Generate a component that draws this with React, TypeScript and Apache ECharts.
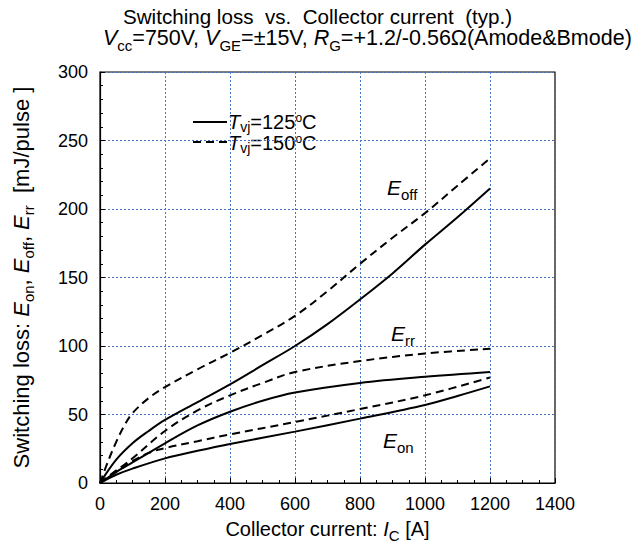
import React, { useEffect, useRef } from "react";
import * as echarts from "echarts";

const eoff125: [number, number][] = [[0,0],[50,17],[100,29],[150,38],[200,46],[300,59],[400,72],[500,86],[600,100],[700,116],[800,134],[900,153],[1000,174],[1100,194],[1200,215]];
const eoff150: [number, number][] = [[0,0],[25,16],[50,30],[75,42],[100,51],[150,62],[200,70],[300,83],[400,95],[500,108],[600,122],[700,140],[800,160],[900,179],[1000,197],[1100,217],[1200,237]];
const err125: [number, number][] = [[0,0],[50,8],[100,15],[200,29],[300,42],[400,52],[500,60],[600,66],[800,73],[1000,77.5],[1200,81]];
const err150: [number, number][] = [[0,0],[50,9],[100,18],[200,38],[300,53],[400,64],[500,73],[600,81],[800,89],[1000,94.5],[1200,98]];
const eon125: [number, number][] = [[0,0],[50,6],[100,10.5],[200,18],[300,23.5],[400,28.5],[600,37.5],[800,47],[1000,57],[1100,63.5],[1200,70.5]];
const eon150: [number, number][] = [[0,0],[50,9],[100,16],[150,22],[200,25.5],[300,30.5],[400,35.5],[600,44.5],[800,54],[1000,64],[1200,77]];

const FONT = "Liberation Sans, Arial, sans-serif";

export default function App() {
  const ref = useRef<HTMLDivElement>(null);
  useEffect(() => {
    if (!ref.current) return;
    const chart = echarts.init(ref.current, null, { renderer: "svg" });
    const lineS = (name: string, data: [number, number][], dashed: boolean) => ({
      name,
      type: "line",
      data,
      smooth: 0.35,
      showSymbol: false,
      lineStyle: { color: "#000", width: 2, type: dashed ? [8, 5] : "solid" },
      z: 5,
    });
    const mk = (size: number, subSize: number, subDrop = 4) => ({
      i: { fontStyle: "italic", fontSize: size, fontFamily: FONT },
      s: { fontSize: subSize, fontFamily: FONT, verticalAlign: "bottom", padding: [0, 0, -subDrop, 0] },
      o: { fontSize: Math.round(size * 0.6), fontFamily: FONT, verticalAlign: "top", padding: [0, 0, 6, 0] },
    });
    chart.setOption({
      animation: false,
      textStyle: { fontFamily: FONT, color: "#000" },
      grid: { left: 100, right: 82, top: 72, bottom: 68, show: true, borderColor: "#000", borderWidth: 1.2, backgroundColor: "transparent" },
      xAxis: {
        type: "value", min: 0, max: 1400, interval: 200,
        axisLine: { show: true, lineStyle: { color: "#000", width: 1.2 } },
        axisTick: { show: true, inside: true, length: 5, lineStyle: { color: "#000" } },
        minorTick: { show: true, splitNumber: 4, length: 3, lineStyle: { color: "#000" } },
        axisLabel: { fontSize: 18, color: "#000", fontFamily: FONT, margin: 12, formatter: (v: number) => String(v) },
        splitLine: { show: true, lineStyle: { color: "#4472C4", type: [2, 2], width: 1 } },
        name: "Collector current: {i|I}{s|C} [A]",
        nameLocation: "middle", nameGap: 36,
        nameTextStyle: { fontSize: 20, color: "#000", fontFamily: FONT, rich: mk(20, 15) },
      },
      yAxis: {
        type: "value", min: 0, max: 300, interval: 50,
        axisLine: { show: true, lineStyle: { color: "#000", width: 1.2 } },
        axisTick: { show: true, inside: true, length: 5, lineStyle: { color: "#000" } },
        minorTick: { show: true, splitNumber: 5, length: 3, lineStyle: { color: "#000" } },
        axisLabel: { fontSize: 18, color: "#000", fontFamily: FONT, margin: 12, formatter: (v: number) => String(v) },
        splitLine: { show: true, lineStyle: { color: "#4472C4", type: [2, 2], width: 1 } },
        name: "Switching loss: {i|E}{s|on}, {i|E}{s|off}, {i|E}{s|rr}  [mJ/pulse ]",
        nameLocation: "middle", nameGap: 68, nameRotate: 90,
        nameTextStyle: { fontSize: 22, color: "#000", fontFamily: FONT, rich: mk(22, 15) },
      },
      series: [
        lineS("Eoff 125", eoff125, false),
        lineS("Eoff 150", eoff150, true),
        lineS("Err 125", err125, false),
        lineS("Err 150", err150, true),
        lineS("Eon 125", eon125, false),
        lineS("Eon 150", eon150, true),
      ],
      graphic: [
        {
          type: "text", left: 123, top: 6,
          style: { text: "Switching loss  vs.  Collector current  (typ.)", fontSize: 20.6, fontFamily: FONT, fill: "#000" },
        },
        {
          type: "text", left: 103, top: 27,
          style: {
            text: "{i|V}{s|cc}=750V, {i|V}{s|GE}=±15V, {i|R}{s|G}=+1.2/-0.56Ω(Amode&Bmode)",
            fontSize: 21.5, fontFamily: FONT, fill: "#000", rich: mk(21.5, 15),
          },
        },
        { type: "line", shape: { x1: 193, y1: 122, x2: 227, y2: 122 }, style: { stroke: "#000", lineWidth: 2 } },
        { type: "line", shape: { x1: 193, y1: 142, x2: 227, y2: 142 }, style: { stroke: "#000", lineWidth: 2, lineDash: [8, 5] } },
        {
          type: "text", left: 228, top: 112,
          style: { text: "{i|T}{s|vj}=125{o|o}C", fontSize: 20, fontFamily: FONT, fill: "#000", rich: mk(20, 14, 2) },
        },
        {
          type: "text", left: 228, top: 133,
          style: { text: "{i|T}{s|vj}=150{o|o}C", fontSize: 20, fontFamily: FONT, fill: "#000", rich: mk(20, 14, 2) },
        },
        {
          type: "text", left: 387, top: 177,
          style: { text: "{i|E}{s|off}", fontSize: 20, fontFamily: FONT, fill: "#000", rich: mk(21, 15) },
        },
        {
          type: "text", left: 391, top: 323,
          style: { text: "{i|E}{s|rr}", fontSize: 20, fontFamily: FONT, fill: "#000", rich: mk(21, 15) },
        },
        {
          type: "text", left: 383, top: 430,
          style: { text: "{i|E}{s|on}", fontSize: 20, fontFamily: FONT, fill: "#000", rich: mk(21, 15) },
        },
      ],
    });
    return () => chart.dispose();
  }, []);
  return <div ref={ref} style={{ width: 637, height: 551, position: "absolute", left: 0, top: 0, background: "#fff" }} />;
}
